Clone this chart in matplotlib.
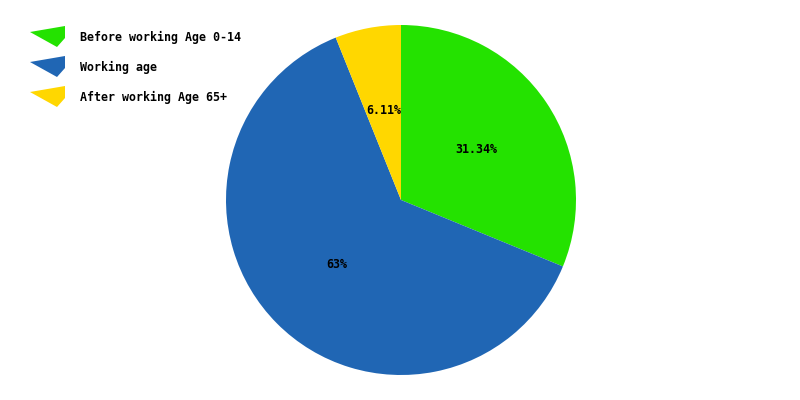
import matplotlib
matplotlib.use("Agg")
import matplotlib.pyplot as plt
from matplotlib.patches import Polygon

labels = ["Before working Age 0-14", "Working age", "After working Age 65+"]
values = [31.34, 63, 6.11]
pct_text = ["31.34%", "63%", "6.11%"]
colors = ["#24E200", "#2066B4", "#FFD700"]

W, H = 800, 400
fig = plt.figure(figsize=(8, 4), dpi=100)
fig.patch.set_facecolor("white")

# pie centre (401, 200), radius 175 px
cx, cy, r = 401, 200, 175
ax = fig.add_axes([(cx - r) / W, (H - cy - r) / H, 2 * r / W, 2 * r / H])
it = iter(pct_text)
wedges, texts, autotexts = ax.pie(
    values, colors=colors, startangle=90, counterclock=False,
    autopct=lambda p: next(it), pctdistance=0.52, radius=1,
    wedgeprops=dict(linewidth=0),
    textprops=dict(family="DejaVu Sans Mono", weight="bold", fontsize=8.4, color="black"))
ax.set_xlim(-1, 1)
ax.set_ylim(-1, 1)
ax.axis("off")

# legend with little wedge markers
def px(x, y):
    return (x / W, 1 - y / H)

shape = [(30, 32), (65, 26), (65, 38), (57, 47)]
for i, (lab, col) in enumerate(zip(labels, colors)):
    dy = 30 * i
    pts = [px(x, y + dy) for x, y in shape]
    fig.patches.append(Polygon(pts, closed=True, facecolor=col, edgecolor="none",
                               transform=fig.transFigure, figure=fig))
    fig.text(80 / W, 1 - (37 + dy) / H, lab, family="DejaVu Sans Mono", weight="bold",
             fontsize=8.4, va="center", ha="left")

fig.savefig("out.png", dpi=100)
